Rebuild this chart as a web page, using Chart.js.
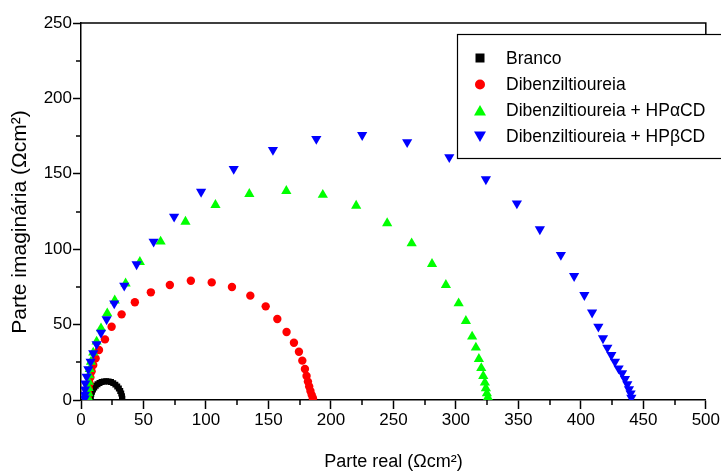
<!DOCTYPE html>
<html>
<head>
<meta charset="utf-8">
<script src="https://cdn.jsdelivr.net/npm/chart.js@4/dist/chart.umd.min.js"></script>
<style>
  html, body { margin: 0; padding: 0; background: #fff; }
  canvas { display: block; }
</style>
</head>
<body>
<canvas id="c" width="721" height="473"></canvas>
<script>
// ---- data ----
const seriesNames = ["Branco", "Dibenziltioureia", "Dibenziltioureia + HP\u03b1CD", "Dibenziltioureia + HP\u03b2CD"];

const brancoX = [7.6, 7.8, 8.2, 8.8, 9.6, 10.6, 11.8, 13.2, 14.8, 16.5, 18.3, 20.2, 22.1, 24.0, 25.8, 27.5, 29.0, 30.3, 31.4, 32.2, 32.8, 33.1];
const brancoY = [0.5, 2.2, 3.9, 5.5, 7.0, 8.3, 9.5, 10.5, 11.3, 11.9, 12.3, 12.4, 12.3, 11.9, 11.2, 10.2, 9.0, 7.6, 6.0, 4.3, 2.5, 0.8];

const dibX = [5.5, 5.8, 6.2, 6.8, 7.5, 8.5, 9.8, 11.7, 14.4, 19.2, 24.5, 32.5, 43.1, 55.9, 71.1, 87.9, 104.6, 120.8, 135.5, 147.8, 157.1, 164.5, 170.4, 174.4, 177.1, 179.2, 180.5, 181.6, 182.6, 183.6, 184.6, 185.6];
const dibY = [1.2, 4.0, 7.5, 11.0, 15.0, 19.0, 23.2, 27.6, 33.2, 40.2, 48.6, 56.8, 64.8, 71.4, 76.3, 79.1, 78.0, 74.9, 69.2, 62.1, 53.7, 45.1, 38.0, 32.0, 26.1, 20.6, 15.9, 12.2, 9.0, 6.0, 3.4, 1.2];

const alphaX = [5.8, 5.9, 6.0, 6.2, 6.4, 7.0, 8.0, 9.8, 12.5, 16.0, 21.0, 27.0, 35.7, 47.1, 63.7, 83.6, 107.6, 134.7, 164.3, 193.5, 220.2, 245.0, 264.6, 280.9, 292.0, 302.2, 308.0, 313.0, 316.0, 318.4, 320.3, 321.9, 323.2, 324.0, 324.8, 325.6];
const alphaY = [1.3, 4.5, 8.0, 12.0, 16.3, 20.5, 25.4, 31.4, 38.7, 47.5, 57.5, 66.0, 77.3, 91.5, 105.0, 118.2, 129.3, 136.6, 138.6, 136.0, 128.8, 117.2, 103.9, 90.2, 76.3, 64.1, 52.4, 42.0, 34.7, 27.2, 21.2, 15.9, 11.5, 7.8, 4.4, 1.8];

const betaX = [3.0, 3.1, 3.2, 3.4, 4.5, 5.9, 7.7, 9.8, 12.5, 16.0, 20.5, 26.6, 34.6, 44.5, 58.1, 74.5, 96.1, 122.2, 153.6, 188.3, 225.0, 261.0, 294.7, 324.0, 348.8, 367.2, 384.0, 394.6, 402.8, 409.0, 414.0, 417.7, 421.2, 424.4, 427.3, 430.2, 433.0, 435.3, 437.2, 438.5, 439.8, 440.4];
const betaY = [1.0, 3.5, 7.0, 11.0, 15.5, 20.4, 25.4, 31.0, 37.0, 44.6, 53.5, 64.1, 75.8, 90.0, 105.0, 121.6, 138.1, 153.2, 165.8, 173.1, 175.7, 171.0, 161.0, 146.4, 130.4, 113.2, 96.2, 82.2, 69.6, 58.0, 48.6, 40.9, 34.7, 29.8, 25.4, 21.0, 17.7, 13.9, 10.4, 7.1, 4.4, 1.5];

const xTickLabels = [0, 50, 100, 150, 200, 250, 300, 350, 400, 450, 500];
const yTickLabels = [0, 50, 100, 150, 200, 250];

const xTitle = "Parte real (\u03a9cm\u00b2)";
const yTitle = "Parte imagin\u00e1ria (\u03a9cm\u00b2)\u2002\u2002";

// ---- styles ----
const FONT = "'Liberation Sans', Arial, sans-serif";
const colors = ["#000000", "#ff0000", "#00ff00", "#0000ff"];
const styles = ["rect", "circle", "triangle", "triangle"];
const rotations = [0, 0, 0, 180];
const radii = [4.2, 4.2, 5.9, 5.9];

function pts(xs, ys) { return xs.map((x, i) => ({ x: x, y: ys[i] })); }
const allData = [pts(brancoX, brancoY), pts(dibX, dibY), pts(alphaX, alphaY), pts(betaX, betaY)];
const drawOrder = [3, 2, 1, 0]; // lower = on top

const datasets = allData.map((d, i) => ({
  label: seriesNames[i],
  data: d,
  showLine: false,
  pointStyle: styles[i],
  rotation: rotations[i],
  pointRadius: radii[i],
  pointHoverRadius: radii[i],
  backgroundColor: colors[i],
  borderColor: colors[i],
  borderWidth: 0,
  order: drawOrder[i]
}));

// minor ticks + frame + legend box
const decor = {
  id: 'decor',
  afterDraw(chart) {
    const ctx = chart.ctx;
    const xs = chart.scales.x, ys = chart.scales.y;
    const area = chart.chartArea;
    ctx.save();
    ctx.strokeStyle = '#000';
    ctx.lineWidth = 1.5;
    // minor ticks (midway between labelled ticks)
    for (let i = 0; i < xTickLabels.length - 1; i++) {
      const v = (xTickLabels[i] + xTickLabels[i + 1]) / 2;
      const px = Math.round(xs.getPixelForValue(v));
      ctx.beginPath(); ctx.moveTo(px, area.bottom); ctx.lineTo(px, area.bottom + 5); ctx.stroke();
    }
    for (let i = 0; i < yTickLabels.length - 1; i++) {
      const v = (yTickLabels[i] + yTickLabels[i + 1]) / 2;
      const py = Math.round(ys.getPixelForValue(v));
      ctx.beginPath(); ctx.moveTo(area.left, py); ctx.lineTo(area.left - 5, py); ctx.stroke();
    }
    // top frame line and right frame line
    ctx.lineWidth = 1.5;
    ctx.beginPath();
    ctx.moveTo(area.left, area.top);
    ctx.lineTo(area.right, area.top);
    ctx.lineTo(area.right, area.top + 12);
    ctx.stroke();

    // legend box
    const bx = 457.5, by = 34.5, bw = 280, bh = 124;
    ctx.fillStyle = '#fff';
    ctx.fillRect(bx, by, bw, bh);
    ctx.lineWidth = 1.2;
    ctx.strokeRect(bx, by, bw, bh);

    const rowsY = [58, 84.5, 110.5, 136.5];
    const mx = 480;
    ctx.font = "17.5px " + FONT;
    ctx.textBaseline = 'middle';
    ctx.textAlign = 'left';
    for (let i = 0; i < 4; i++) {
      const cy = rowsY[i];
      ctx.fillStyle = colors[i];
      ctx.beginPath();
      if (i === 0) {
        ctx.rect(mx - 4.5, cy - 4.5, 9, 9);
      } else if (i === 1) {
        ctx.arc(mx, cy, 5, 0, Math.PI * 2);
      } else if (i === 2) {
        ctx.moveTo(mx, cy - 5.5); ctx.lineTo(mx + 6, cy + 5); ctx.lineTo(mx - 6, cy + 5); ctx.closePath();
      } else {
        ctx.moveTo(mx, cy + 5.5); ctx.lineTo(mx + 6, cy - 5); ctx.lineTo(mx - 6, cy - 5); ctx.closePath();
      }
      ctx.fill();
      ctx.fillStyle = '#000';
      ctx.fillText(seriesNames[i], 506, cy + 1);
    }
    ctx.restore();
  }
};

new Chart(document.getElementById('c'), {
  type: 'scatter',
  data: { datasets: datasets },
  options: {
    responsive: false,
    animation: false,
    devicePixelRatio: 1,
    events: [],
    layout: { padding: { top: 23, right: 14, left: 0, bottom: 0 } },
    plugins: { legend: { display: false }, tooltip: { enabled: false } },
    scales: {
      x: {
        type: 'linear',
        min: 0, max: 500,
        afterFit: s => { s.height = 73; },
        afterBuildTicks: s => { s.ticks = xTickLabels.map(v => ({ value: v })); },
        ticks: { color: '#000', font: { family: FONT, size: 17 }, padding: 1, maxRotation: 0, autoSkip: false },
        grid: { drawOnChartArea: false, tickLength: 9, tickWidth: 1.5, tickColor: '#000' },
        border: { color: '#000', width: 1.5 },
        title: { display: true, text: xTitle, color: '#000', font: { family: FONT, size: 18 }, padding: { top: 0, bottom: 0 } }
      },
      y: {
        type: 'linear',
        min: 0, max: 250,
        afterFit: s => { s.width = 81; },
        afterBuildTicks: s => { s.ticks = yTickLabels.map(v => ({ value: v })); },
        ticks: { color: '#000', font: { family: FONT, size: 17 }, padding: 1, autoSkip: false },
        grid: { drawOnChartArea: false, tickLength: 8, tickWidth: 1.5, tickColor: '#000' },
        border: { color: '#000', width: 1.5 },
        title: { display: true, text: yTitle, color: '#000', font: { family: FONT, size: 21 }, padding: { top: 8, bottom: 0 } }
      }
    }
  },
  plugins: [decor]
});
</script>
</body>
</html>
